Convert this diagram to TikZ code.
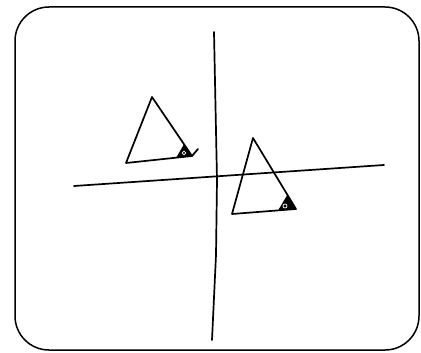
\documentclass[tikz,border=0pt]{standalone}
\usetikzlibrary{calc}

\begin{document}
\begin{tikzpicture}[x=1pt, y=-1pt, line join=round, line cap=round, line width=1.7pt]
\useasboundingbox (0,0) rectangle (421,353);
\draw[line width=1.5pt, rounded corners=34pt] (15,7) rectangle (419,350);
% axes
\coordinate (V1) at (214,32); \coordinate (V2) at (217,180); \coordinate (V3) at (216,255); \coordinate (V4) at (212,340);
\coordinate (H1) at (74,186); \coordinate (H2) at (384,165);
\draw (V1) -- (V2) -- (V3) -- (V4); \draw (H1) -- (H2);
% triangles
\coordinate (A1) at (152,97); \coordinate (A2) at (126,163); \coordinate (A3) at (192,156); \coordinate (A4) at (198,149);
\coordinate (B1) at (253,138); \coordinate (B2) at (232,214); \coordinate (B3) at (296,209);
\draw (A1) -- (A2) -- (A3) -- cycle; \draw (A3) -- (A4);
\draw (B1) -- (B2) -- (B3) -- cycle;
% angle marks
\fill ($(A3)!0.2!(A1)$) -- (A3) -- ($(A3)!0.24!(A2)$) -- cycle;
\fill ($(B3)!0.2!(B1)$) -- (B3) -- ($(B3)!0.28!(B2)$) -- cycle;
\draw[white, line width=0.7pt] (184,153) circle (1.8); \draw[white, line width=0.7pt] (285,206) circle (2);
\end{tikzpicture}
\end{document}
